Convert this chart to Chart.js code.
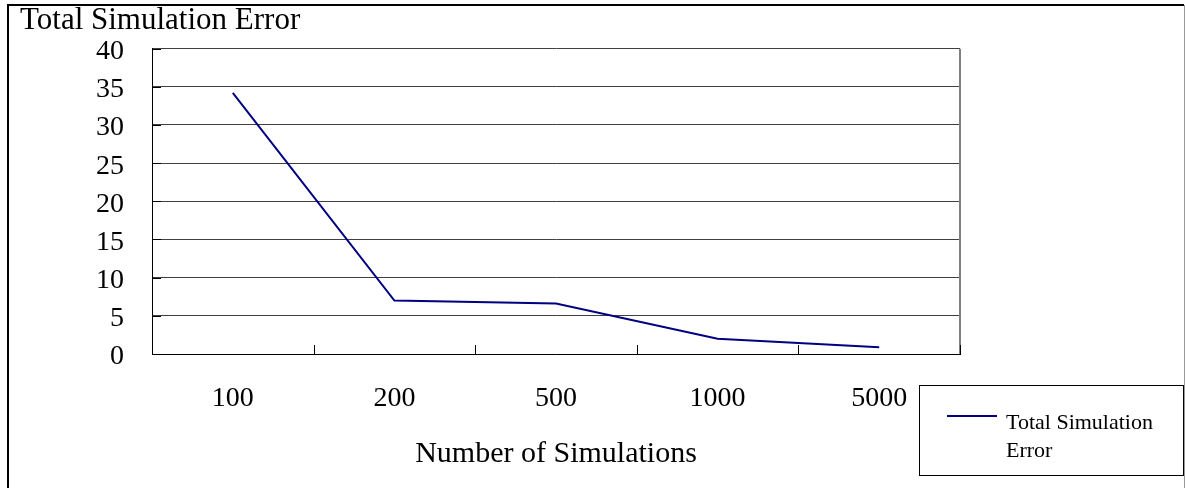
<!DOCTYPE html>
<html>
<head>
<meta charset="utf-8">
<script src="https://cdn.jsdelivr.net/npm/chart.js@4/dist/chart.umd.min.js"></script>
<style>
  html, body { margin: 0; padding: 0; background: #fff; }
  #wrap { width: 1185px; height: 488px; }
</style>
</head>
<body>
<div id="wrap"><canvas id="chart" width="1185" height="488"></canvas></div>
<script>
const categories = ['100', '200', '500', '1000', '5000'];
const errorValues = [34.2, 7.0, 6.6, 2.0, 0.9];
const yTicks = [0, 5, 10, 15, 20, 25, 30, 35, 40];

const seriesLabel = 'Total Simulation Error';
const lineColor = '#000080';
const serif = '"Liberation Serif", "DejaVu Serif", serif';

// frame, plot borders, inward ticks and the boxed legend
const decorations = {
  id: 'decorations',
  beforeDraw(chart) {
    const ctx = chart.ctx;
    ctx.save();
    ctx.fillStyle = '#fff';
    ctx.fillRect(0, 0, chart.width, chart.height);
    ctx.strokeStyle = '#000';
    ctx.lineWidth = 2;
    ctx.beginPath();
    ctx.moveTo(8, 600);
    ctx.lineTo(8, 5);
    ctx.lineTo(1184, 5);
    ctx.stroke();
    ctx.strokeStyle = '#999';
    ctx.lineWidth = 1;
    ctx.beginPath();
    ctx.moveTo(1184.5, 5);
    ctx.lineTo(1184.5, 600);
    ctx.stroke();
    ctx.restore();
  },
  afterDatasetsDraw(chart) {
    const ctx = chart.ctx;
    const a = chart.chartArea;
    const x = chart.scales.x;
    const y = chart.scales.y;
    ctx.save();
    // right border of plot
    ctx.strokeStyle = '#808080';
    ctx.lineWidth = 2;
    ctx.beginPath();
    ctx.moveTo(a.right, a.top);
    ctx.lineTo(a.right, a.bottom);
    ctx.stroke();
    // inward ticks on x axis at category boundaries
    ctx.strokeStyle = '#000';
    ctx.lineWidth = 1;
    ctx.beginPath();
    for (let i = 0; i <= categories.length; i++) {
      const px = Math.round(x.getPixelForValue(i - 0.5)) + 0.5;
      ctx.moveTo(px, a.bottom);
      ctx.lineTo(px, a.bottom - 9);
    }
    // inward ticks on y axis
    yTicks.forEach(v => {
      const py = Math.round(y.getPixelForValue(v)) + 0.5;
      ctx.moveTo(a.left, py);
      ctx.lineTo(a.left + 9, py);
    });
    ctx.stroke();

    // legend box
    ctx.strokeStyle = '#000';
    ctx.lineWidth = 1;
    ctx.strokeRect(919.5, 385.5, 264, 90);
    ctx.strokeStyle = lineColor;
    ctx.lineWidth = 2;
    ctx.beginPath();
    ctx.moveTo(947, 416);
    ctx.lineTo(997, 416);
    ctx.stroke();
    ctx.fillStyle = '#000';
    ctx.font = '22px ' + serif;
    ctx.textBaseline = 'alphabetic';
    ctx.textAlign = 'left';
    const words = seriesLabel.split(' ');
    ctx.fillText(words.slice(0, 2).join(' '), 1006, 429);
    ctx.fillText(words.slice(2).join(' '), 1006, 457);
    ctx.restore();
  }
};

new Chart(document.getElementById('chart').getContext('2d'), {
  type: 'line',
  data: {
    labels: categories,
    datasets: [
      {
        label: seriesLabel,
        data: errorValues,
        borderColor: lineColor,
        backgroundColor: lineColor,
        borderWidth: 2,
        pointRadius: 0,
        tension: 0,
        fill: false
      }
    ]
  },
  options: {
    responsive: false,
    animation: false,
    layout: { padding: { left: 20, right: 225, top: 0, bottom: 0 } },
    plugins: {
      legend: { display: false },
      tooltip: { enabled: false },
      title: {
        display: true,
        text: 'Total Simulation Error',
        align: 'start',
        color: '#000',
        font: { family: serif, size: 31, weight: 'normal', lineHeight: 1.15 },
        padding: { top: 3, bottom: 10 }
      }
    },
    scales: {
      x: {
        offset: true,
        grid: { display: false, drawTicks: false },
        border: { color: '#000', width: 1 },
        ticks: {
          color: '#000',
          padding: 28,
          font: { family: serif, size: 28 }
        },
        title: {
          display: true,
          text: 'Number of Simulations',
          color: '#000',
          font: { family: serif, size: 30 },
          padding: { top: 0, bottom: 16 }
        },
        afterFit(scale) { scale.height = 134; }
      },
      y: {
        min: 0,
        max: 40,
        afterBuildTicks(scale) { scale.ticks = yTicks.map(v => ({ value: v })); },
        grid: { color: '#404040', lineWidth: 1, drawTicks: false },
        border: { color: '#000', width: 1 },
        ticks: {
          color: '#000',
          padding: 28,
          labelOffset: 3,
          font: { family: serif, size: 28 }
        },
        afterFit(scale) { scale.width = 132; }
      }
    }
  },
  plugins: [decorations]
});
</script>
</body>
</html>
